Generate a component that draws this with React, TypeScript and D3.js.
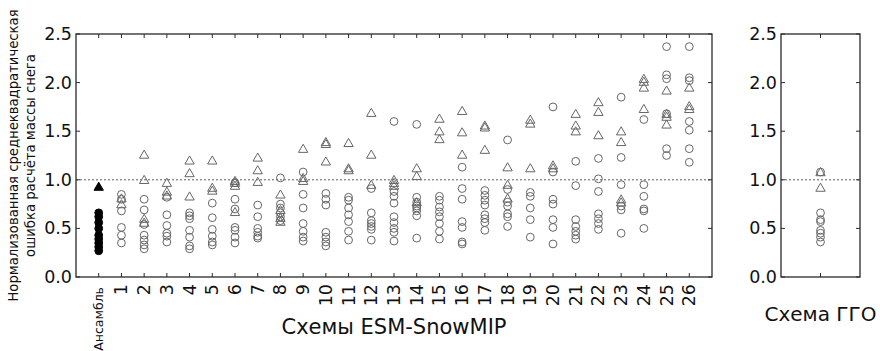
import React from "react";
import * as d3 from "d3";

// Categories on the x axis: the ensemble, then the 26 ESM-SnowMIP schemes
const categories = [
  "Ансамбль", "1", "2", "3", "4", "5", "6", "7", "8", "9", "10", "11", "12", "13",
  "14", "15", "16", "17", "18", "19", "20", "21", "22", "23", "24", "25", "26",
];

// Normalised RMSE per category, circle markers
const circleValues: number[][] = [
  [0.66, 0.62, 0.56, 0.5, 0.43, 0.39, 0.35, 0.31, 0.27],
  [0.85, 0.8, 0.68, 0.51, 0.43, 0.35],
  [0.8, 0.69, 0.54, 0.43, 0.38, 0.33, 0.29],
  [0.82, 0.64, 0.53, 0.45, 0.42, 0.36],
  [0.66, 0.63, 0.6, 0.48, 0.41, 0.32, 0.29],
  [0.76, 0.61, 0.49, 0.42, 0.36, 0.33],
  [0.97, 0.8, 0.7, 0.51, 0.48, 0.41, 0.35],
  [0.74, 0.62, 0.5, 0.46, 0.42, 0.4],
  [1.02, 0.75, 0.71, 0.66, 0.62, 0.58],
  [1.08, 0.85, 0.71, 0.55, 0.47, 0.41, 0.37],
  [0.86, 0.8, 0.74, 0.46, 0.41, 0.36, 0.32],
  [0.82, 0.79, 0.71, 0.64, 0.57, 0.47, 0.38],
  [0.91, 0.66, 0.58, 0.55, 0.52, 0.49, 0.38],
  [1.6, 0.88, 0.83, 0.76, 0.62, 0.56, 0.5, 0.46, 0.37],
  [1.57, 0.82, 0.77, 0.73, 0.71, 0.68, 0.63, 0.4],
  [0.83, 0.79, 0.72, 0.67, 0.62, 0.55, 0.47, 0.39],
  [1.13, 0.91, 0.8, 0.57, 0.51, 0.36, 0.34],
  [0.89, 0.84, 0.79, 0.74, 0.64, 0.6, 0.56, 0.48],
  [1.41, 0.9, 0.77, 0.73, 0.65, 0.62, 0.52],
  [0.87, 0.83, 0.71, 0.59, 0.41],
  [1.75, 1.08, 0.8, 0.75, 0.59, 0.51, 0.34],
  [1.19, 0.94, 0.59, 0.52, 0.47, 0.43, 0.39],
  [1.22, 1.01, 0.88, 0.65, 0.6, 0.55, 0.49],
  [1.85, 1.23, 0.95, 0.73, 0.69, 0.45],
  [1.62, 0.95, 0.83, 0.7, 0.68, 0.5],
  [2.37, 2.08, 2.04, 1.68, 1.32, 1.25],
  [2.37, 2.05, 2.02, 1.6, 1.51, 1.32, 1.18],
];

// Normalised RMSE per category, triangle markers
const triangleValues: number[][] = [
  [0.92],
  [0.8, 0.74],
  [1.25, 0.99, 0.59, 0.55],
  [0.96, 0.87, 0.83],
  [1.19, 1.06, 0.82],
  [1.19, 0.91, 0.88],
  [0.98, 0.96, 0.93, 0.66],
  [1.22, 1.09, 0.97],
  [0.84, 0.68, 0.6, 0.56],
  [1.31, 1.01, 0.98],
  [1.38, 1.36, 1.18],
  [1.37, 1.11, 1.09],
  [1.68, 1.25, 0.94],
  [0.99, 0.96, 0.93],
  [1.11, 1.03, 0.76],
  [1.62, 1.49, 1.41],
  [1.7, 1.48, 1.25],
  [1.55, 1.53, 1.3],
  [1.12, 0.94, 0.8],
  [1.61, 1.57, 1.11],
  [1.14, 1.11],
  [1.67, 1.55, 1.49],
  [1.79, 1.69, 1.45],
  [1.49, 1.38, 0.79, 0.76],
  [2.03, 2.0, 1.94, 1.72],
  [1.91, 1.67, 1.64, 1.56],
  [1.94, 1.75, 1.72],
];

// GGO scheme
const ggoCircles = [1.08, 0.66, 0.59, 0.57, 0.48, 0.45, 0.41, 0.36];
const ggoTriangles = [1.07, 0.91];

const yTicks = [0, 0.5, 1.0, 1.5, 2.0, 2.5];

const W = 880;
const H = 351;
const top = 34;
const bottom = 277;
const leftPanel = { x0: 76, x1: 712 };
const rightPanel = { x0: 781, x1: 860 };

const markerColor = "#666";
const frameColor = "#2a2a2a";
const font = "'DejaVu Sans', sans-serif";

export default function App() {
  const y = d3.scaleLinear().domain([0, 2.5]).range([bottom, top]);
  const x = d3
    .scaleLinear()
    .domain([-1, categories.length])
    .range([leftPanel.x0, leftPanel.x1]);
  const xr = d3.scaleLinear().domain([-1, 1]).range([rightPanel.x0, rightPanel.x1]);

  const tri = d3.symbol().type(d3.symbolTriangle).size(38)() as string;
  const circleR = 3.9;

  const yAxisTicks = (p: { x0: number; x1: number }, key: string) =>
    yTicks.map((t) => (
      <g key={key + t}>
        <line x1={p.x0} x2={p.x0 + 4} y1={y(t)} y2={y(t)} stroke={frameColor} />
        <line x1={p.x1} x2={p.x1 - 4} y1={y(t)} y2={y(t)} stroke={frameColor} />
        <text
          x={p.x0 - 4}
          y={y(t)}
          textAnchor="end"
          dominantBaseline="central"
          fontSize={17.5}
          fontFamily={font}
          fill="#111"
        >
          {t.toFixed(1)}
        </text>
      </g>
    ));

  return (
    <svg
      width={W}
      height={H}
      style={{ position: "absolute", left: 0, top: 0, background: "#fff" }}
    >
      {/* reference line at 1.0 */}
      <line
        x1={leftPanel.x0}
        x2={leftPanel.x1}
        y1={y(1)}
        y2={y(1)}
        stroke="#333"
        strokeWidth={0.8}
        strokeDasharray="2,2"
      />
      <line
        x1={rightPanel.x0}
        x2={rightPanel.x1}
        y1={y(1)}
        y2={y(1)}
        stroke="#333"
        strokeWidth={0.8}
        strokeDasharray="2,2"
      />

      {/* left panel markers */}
      {circleValues.map((vals, i) =>
        vals.map((v, j) => (
          <circle
            key={`c${i}-${j}`}
            cx={x(i)}
            cy={y(v)}
            r={circleR}
            fill={i === 0 ? "#000" : "none"}
            stroke={i === 0 ? "#000" : markerColor}
            strokeWidth={1}
          />
        ))
      )}
      {triangleValues.map((vals, i) =>
        vals.map((v, j) => (
          <path
            key={`t${i}-${j}`}
            d={tri}
            transform={`translate(${x(i)},${y(v)})`}
            fill={i === 0 ? "#000" : "none"}
            stroke={i === 0 ? "#000" : markerColor}
            strokeWidth={1}
          />
        ))
      )}

      {/* right panel markers */}
      {ggoCircles.map((v, j) => (
        <circle
          key={`gc${j}`}
          cx={xr(0)}
          cy={y(v)}
          r={circleR}
          fill="none"
          stroke={markerColor}
          strokeWidth={1}
        />
      ))}
      {ggoTriangles.map((v, j) => (
        <path
          key={`gt${j}`}
          d={tri}
          transform={`translate(${xr(0)},${y(v)})`}
          fill="none"
          stroke={markerColor}
          strokeWidth={1}
        />
      ))}

      {/* frames */}
      <rect
        x={leftPanel.x0}
        y={top}
        width={leftPanel.x1 - leftPanel.x0}
        height={bottom - top}
        fill="none"
        stroke={frameColor}
        strokeWidth={1.3}
      />
      <rect
        x={rightPanel.x0}
        y={top}
        width={rightPanel.x1 - rightPanel.x0}
        height={bottom - top}
        fill="none"
        stroke={frameColor}
        strokeWidth={1.3}
      />

      {/* y ticks */}
      {yAxisTicks(leftPanel, "l")}
      {yAxisTicks(rightPanel, "r")}

      {/* x ticks and rotated labels */}
      {categories.map((c, i) => (
        <g key={`x${i}`}>
          <line x1={x(i)} x2={x(i)} y1={bottom} y2={bottom - 4} stroke={frameColor} />
          <line x1={x(i)} x2={x(i)} y1={top} y2={top + 4} stroke={frameColor} />
          <text
            transform={`translate(${x(i)},${bottom + (i === 0 ? 10 : 7)}) rotate(-90)`}
            textAnchor="end"
            dominantBaseline="central"
            fontSize={i === 0 ? 12.5 : 17.5}
            fontFamily={font}
            fill="#111"
          >
            {c}
          </text>
        </g>
      ))}
      <line x1={xr(0)} x2={xr(0)} y1={bottom} y2={bottom - 4} stroke={frameColor} />
      <line x1={xr(0)} x2={xr(0)} y1={top} y2={top + 4} stroke={frameColor} />

      {/* axis titles */}
      <text
        transform={`translate(18,${(top + bottom) / 2}) rotate(-90)`}
        textAnchor="middle"
        fontSize={13.2}
        fontFamily={font}
        fill="#111"
      >
        Нормализованная среднеквадратическая
      </text>
      <text
        transform={`translate(35,${(top + bottom) / 2}) rotate(-90)`}
        textAnchor="middle"
        fontSize={13.2}
        fontFamily={font}
        fill="#111"
      >
        ошибка расчёта массы снега
      </text>
      <text
        x={(leftPanel.x0 + leftPanel.x1) / 2}
        y={334}
        textAnchor="middle"
        fontSize={21}
        fontFamily={font}
        fill="#111"
      >
        Схемы ESM-SnowMIP
      </text>
      <text
        x={xr(0)}
        y={321}
        textAnchor="middle"
        fontSize={20}
        fontFamily={font}
        fill="#111"
      >
        Схема ГГО
      </text>
    </svg>
  );
}
